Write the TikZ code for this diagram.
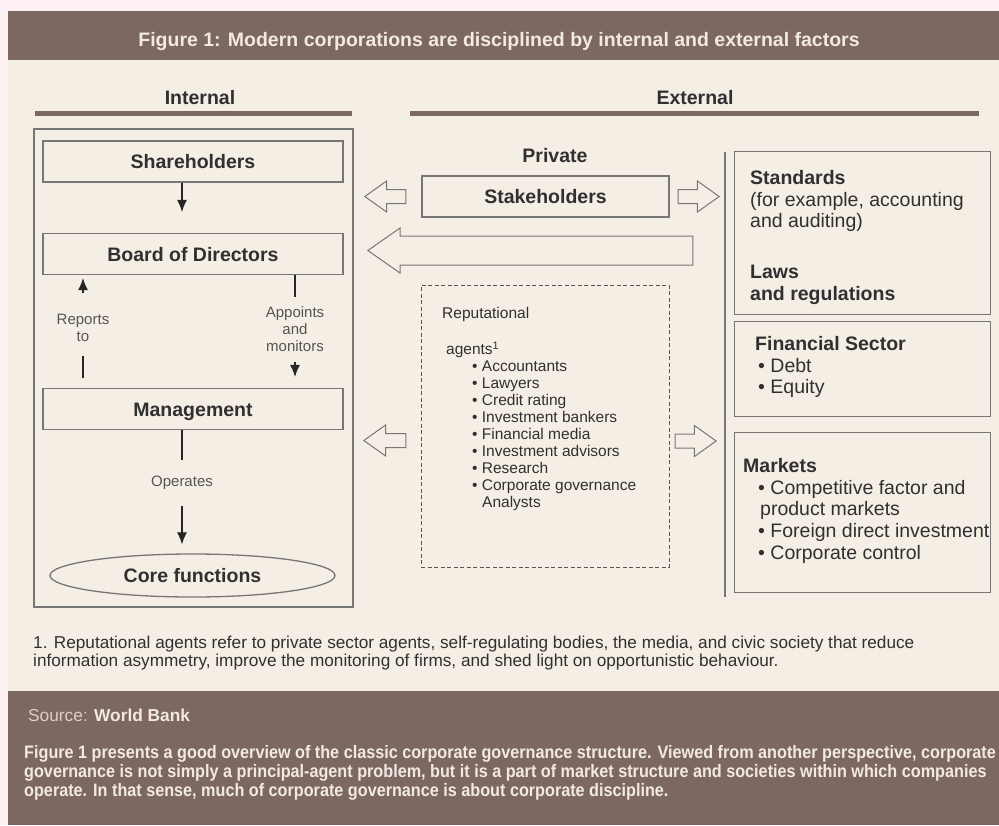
\documentclass[tikz,border=0pt]{standalone}
\usepackage{fontspec}
\setmainfont{Liberation Sans}
\newfontfamily\narrowfont[FakeStretch=0.9]{Liberation Sans}
\usetikzlibrary{arrows.meta,shapes.arrows,shapes.geometric}

\definecolor{barbrown}{RGB}{124,104,96}
\definecolor{panelbg}{RGB}{245,238,229}
\definecolor{edgepink}{RGB}{253,241,244}
\definecolor{linegray}{RGB}{118,118,118}
\definecolor{textdark}{RGB}{48,48,48}
\definecolor{textgray}{RGB}{85,85,85}
\definecolor{barlight}{RGB}{242,233,227}
\definecolor{barsoft}{RGB}{222,206,198}

\newcommand{\headfont}{\bfseries\fontsize{19.5}{22}\selectfont}
\newcommand{\bodyfont}{\fontsize{19.5}{21.8}\selectfont}
\newcommand{\labelfont}{\fontsize{15}{17}\selectfont}
\newcommand{\listfont}{\fontsize{15.5}{17}\selectfont}

\tikzset{
  box/.style={draw=linegray, line width=1.3pt, fill=panelbg, minimum width=300pt,
    minimum height=41pt, inner sep=0pt, text height=14pt, text depth=0pt,
    text=textdark, font=\headfont},
  sidebox/.style={draw=linegray, line width=1.3pt, anchor=north west,
    minimum width=256pt, inner sep=0pt},
  sidetext/.style={anchor=north west, inner sep=0pt, align=left, text=textdark, font=\bodyfont},
  heading/.style={anchor=base, text=textdark, font=\headfont},
  lbl/.style={text=textgray, font=\labelfont, align=center, inner sep=0pt},
  arr/.style={draw=black!85, line width=1.1pt, -{Latex[length=12pt,width=10pt]}},
  link/.style={draw=black!85, line width=1.1pt},
  blk/.style={single arrow, draw=linegray, line width=1pt, fill=panelbg, anchor=tip,
    single arrow tip angle=71, single arrow head extend=8.5pt, minimum height=41pt,
    inner xsep=0pt, inner ysep=6.5pt},
  rule/.style={draw=barbrown, line width=5pt},
}

\begin{document}
\begin{tikzpicture}[x=1pt, y=-1pt]
\useasboundingbox (0,0) rectangle (999,825);
\fill[edgepink] (0,0) rectangle (999,825);
\fill[panelbg] (8,60) rectangle (999,691);
\fill[barbrown] (8,11) rectangle (999,60);
\fill[barbrown] (8,691) rectangle (999,825);

% title and column headings
\node (title) [heading, text=barlight] at (499,46) {Figure 1: Modern corporations are disciplined by internal and external factors};
\node (int) [heading] at (200,104) {Internal};
\node (ext) [heading] at (695,104) {External};
\draw[rule] (35,113) -- (352,113);
\draw[rule] (410,113) -- (979,113);

% internal side
\node (intbox) [draw=linegray, line width=1.3pt, minimum width=319pt, minimum height=478pt] at (193.5,368) {};
\node (sh) [box] at (193,161.5) {Shareholders};
\node (bd) [box] at (193,254) {Board of Directors};
\node (mg) [box] at (193,409) {Management};
\node (core) [ellipse, draw=linegray, line width=1.3pt, minimum width=285pt, minimum height=43pt,
  inner sep=0pt, text=textdark, font=\headfont] at (192.5,575.5) {Core functions};
\node (rep) [lbl] at (83,327.5) {Reports\\to};
\node (app) [lbl] at (295,329) {Appoints\\and\\monitors};
\node (op) [lbl] at (182,483) {Operates};

\draw[arr, shorten >=21pt] ([xshift=-11pt]sh.south) -- ([xshift=-11pt]bd.north);
\draw[arr, shorten <=20.5pt, shorten >=3pt] (rep.north) -- (rep.north |- bd.south);
\draw[link, shorten <=14.5pt, shorten >=10pt] (rep.south) -- (rep.south |- mg.north);
\draw[link, shorten >=9.5pt] (app.north |- bd.south) -- (app.north);
\draw[arr, shorten <=10.5pt, shorten >=11pt] (app.south) -- (app.south |- mg.north);
\draw[link, shorten >=16pt] (mg.south -| op.north) -- (op.north);
\draw[arr, shorten <=16pt, shorten >=9pt] (op.south) -- (op.south |- core.north);

% private external side
\node (priv) [heading] at (555,162) {Private};
\node (stk) [box, minimum width=247pt] at (545.5,196.5) {Stakeholders};
\node (stkl) [blk, shape border rotate=180] at (364,196.5) {};
\node (stkr) [blk] at (720,196.5) {};
\node (big) [blk, shape border rotate=180, minimum height=325pt, inner ysep=14pt,
  single arrow head extend=8pt, single arrow tip angle=70] at (367,250.5) {};

\node (ragbox) [draw=textgray, line width=1pt, dash pattern=on 4pt off 2.5pt,
  minimum width=248pt, minimum height=282pt] at (545,426) {};
\node (ragtext) [anchor=north west, inner sep=0pt, align=left, text=textdark, font=\listfont] at (442,307.5)
  {Reputational\\[19pt]
   \hspace*{4pt}agents\textsuperscript{1}\\
   \hspace*{30pt}• Accountants\\
   \hspace*{30pt}• Lawyers\\
   \hspace*{30pt}• Credit rating\\
   \hspace*{30pt}• Investment bankers\\
   \hspace*{30pt}• Financial media\\
   \hspace*{30pt}• Investment advisors\\
   \hspace*{30pt}• Research\\
   \hspace*{30pt}• Corporate governance\\
   \hspace*{40pt}Analysts};
\node (ragl) [blk, shape border rotate=180, minimum height=42pt] at (363,440.5) {};
\node (ragr) [blk] at (717,441) {};

% right column
\coordinate (vtop) at (725,152);
\coordinate (vbot) at (725,597);
\draw[draw=linegray, line width=1.3pt] (vtop) -- (vbot);

\node (std) [sidebox, minimum height=163pt] at (734,151) {};
\node (stdtext) [sidetext] at (750,170)
  {\textbf{Standards}\\
   (for example, accounting\\
   and auditing)\\[29pt]
   \textbf{Laws}\\
   \textbf{and regulations}};
\node (fin) [sidebox, minimum height=95pt] at (734,321) {};
\node (fintext) [sidetext] at (755,336)
  {\textbf{Financial Sector}\\
   \hspace*{3pt}• Debt\\
   \hspace*{3pt}• Equity};
\node (mkt) [sidebox, minimum height=160pt] at (734,432) {};
\node (mkttext) [sidetext] at (743,458)
  {\textbf{Markets}\\
   \hspace*{15pt}• Competitive factor and\\
   \hspace*{17pt}product markets\\
   \hspace*{15pt}• Foreign direct investment\\
   \hspace*{15pt}• Corporate control};

% footnote
\node (note) [anchor=north west, inner sep=0pt, align=left, text=textdark,
  font=\fontsize{17.2}{18.5}\selectfont] at (33,635.5)
  {1. Reputational agents refer to private sector agents, self-regulating bodies, the media, and civic society that reduce\\
   information asymmetry, improve the monitoring of firms, and shed light on opportunistic behaviour.};

% source bar
\node (src) [anchor=north west, inner sep=0pt, text=barsoft, font=\fontsize{17.3}{20}\selectfont] at (28,709)
  {Source: \textcolor{barlight}{\bfseries World Bank}};
\node (para) [anchor=north west, inner sep=0pt, align=left, text=barlight,
  font=\narrowfont\bfseries\fontsize{18}{19}\selectfont] at (24,745)
  {Figure 1 presents a good overview of the classic corporate governance structure. Viewed from another perspective, corporate\\
   governance is not simply a principal-agent problem, but it is a part of market structure and societies within which companies\\
   operate. In that sense, much of corporate governance is about corporate discipline.};
\end{tikzpicture}
\end{document}
